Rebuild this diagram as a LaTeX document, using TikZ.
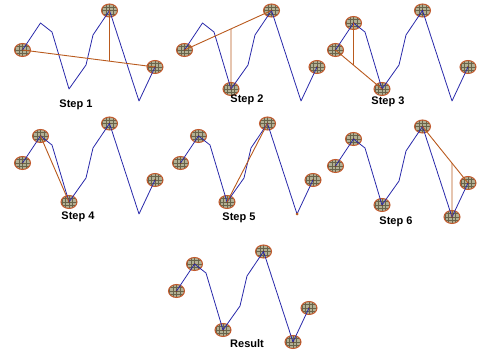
\documentclass[tikz,border=0pt]{standalone}
\usepackage{fontspec}
\newfontfamily\stepfont{Liberation Sans}
\usetikzlibrary{shapes.geometric}

\definecolor{trackblue}{RGB}{40,40,170}
\definecolor{cutbrown}{RGB}{185,90,30}
\definecolor{keepedge}{RGB}{195,90,45}
\definecolor{keepfill}{RGB}{178,176,148}
\definecolor{keepgrid}{RGB}{105,100,75}

\tikzset{
  track/.style={draw=trackblue, line width=0.8pt, line join=round},
  cut/.style={draw=cutbrown, line width=0.9pt},
  kept/.style={ellipse, draw=keepedge, line width=1pt, minimum width=16pt,
    minimum height=13pt, inner sep=0pt, fill=keepfill,
    path picture={
      \draw[keepgrid, line width=0.35pt, shift={(path picture bounding box.center)}]
        (-10pt,-8pt) grid[step=3.6pt] (10pt,8pt);
      \fill[cutbrown!70!black] (path picture bounding box.center) circle (1pt);}},
  dropped/.style={circle, fill=cutbrown, minimum size=3pt, inner sep=0pt},
  steplabel/.style={font=\stepfont\bfseries\fontsize{11}{13}\selectfont}
}

% the same line in every panel
\newcommand{\dpcoords}[1]{%
  \coordinate (#1p1) at (22.5,50);
  \coordinate (#1p2) at (40.5,23);
  \coordinate (#1p3) at (52,32);
  \coordinate (#1p4) at (69,89);
  \coordinate (#1p5) at (86,65);
  \coordinate (#1p6) at (93,35);
  \coordinate (#1p7) at (109.5,10.5);
  \coordinate (#1p8) at (139,101);
  \coordinate (#1p9) at (155,67);
}
\newcommand{\dptrack}[1]{\draw[track] (#1p1) \foreach \i in {2,...,9}{ -- (#1p\i)};}

\begin{document}
\begin{tikzpicture}[x=1pt,y=-1pt]
  \useasboundingbox (0,0) rectangle (480,350);

  % step 1
  \begin{scope}
    \dpcoords{s1}
    \foreach \i in {1,7,9} \node[kept] (s1k\i) at (s1p\i) {};
    \dptrack{s1}
    \coordinate (s1v) at (s1p7 |- s1p8);
    \coordinate (s1f) at (intersection of s1p1--s1p9 and s1p7--s1v);
    \draw[cut] (s1k1.center) -- (s1k9.center);
    \draw[cut] (s1k7.center) -- (s1f);
  \end{scope}

  % step 2
  \begin{scope}[shift={(162,0)}]
    \dpcoords{s2}
    \foreach \i in {1,4,7,9} \node[kept] (s2k\i) at (s2p\i) {};
    \dptrack{s2}
    \coordinate (s2v) at (s2p4 |- s2p7);
    \coordinate (s2f) at (intersection of s2p1--s2p7 and s2p4--s2v);
    \draw[cut] (s2k1.center) -- (s2k7.center);
    \draw[cut] (s2k4.center) -- (s2f);
  \end{scope}

  % step 3
  \begin{scope}[shift={(313,0)}]
    \dpcoords{s3}
    \foreach \i in {1,2,4,7,9} \node[kept] (s3k\i) at (s3p\i) {};
    \dptrack{s3}
    \coordinate (s3v) at (s3p2 |- s3p4);
    \coordinate (s3f) at (intersection of s3p1--s3p4 and s3p2--s3v);
    \draw[cut] (s3k1.center) -- (s3k4.center);
    \draw[cut] (s3k2.center) -- (s3f);
  \end{scope}

  % step 4
  \begin{scope}[shift={(0,113)}]
    \dpcoords{s4}
    \foreach \i in {1,2,4,7,9} \node[kept] (s4k\i) at (s4p\i) {};
    \dptrack{s4}
    \draw[cut] (s4k2.center) -- (s4k4.center);
  \end{scope}

  % step 5
  \begin{scope}[shift={(158,113)}]
    \dpcoords{s5}
    \foreach \i in {1,2,4,7,9} \node[kept] (s5k\i) at (s5p\i) {};
    \dptrack{s5}
    \draw[cut] (s5k4.center) -- (s5k7.center);
    \node[dropped] (s5d8) at (s5p8) {};
  \end{scope}

  % step 6
  \begin{scope}[shift={(313,116)}]
    \dpcoords{s6}
    \foreach \i in {1,2,4,7,8,9} \node[kept] (s6k\i) at (s6p\i) {};
    \dptrack{s6}
    \coordinate (s6v) at (s6p8 |- s6p7);
    \coordinate (s6f) at (intersection of s6p7--s6p9 and s6p8--s6v);
    \draw[cut] (s6k7.center) -- (s6k9.center);
    \draw[cut] (s6k8.center) -- (s6f);
  \end{scope}

  % result
  \begin{scope}[shift={(154,241)}]
    \dpcoords{res}
    \foreach \i in {1,2,4,7,8,9} \node[kept] (resk\i) at (resp\i) {};
    \dptrack{res}
  \end{scope}

  \node[steplabel] (lab1) at (76,105) {Step 1};
  \node[steplabel] (lab2) at (247,100) {Step 2};
  \node[steplabel] (lab3) at (388,102) {Step 3};
  \node[steplabel] (lab4) at (78,217) {Step 4};
  \node[steplabel] (lab5) at (239,218) {Step 5};
  \node[steplabel] (lab6) at (396,222) {Step 6};
  \node[steplabel] (labres) at (247,344) {Result};
\end{tikzpicture}
\end{document}
